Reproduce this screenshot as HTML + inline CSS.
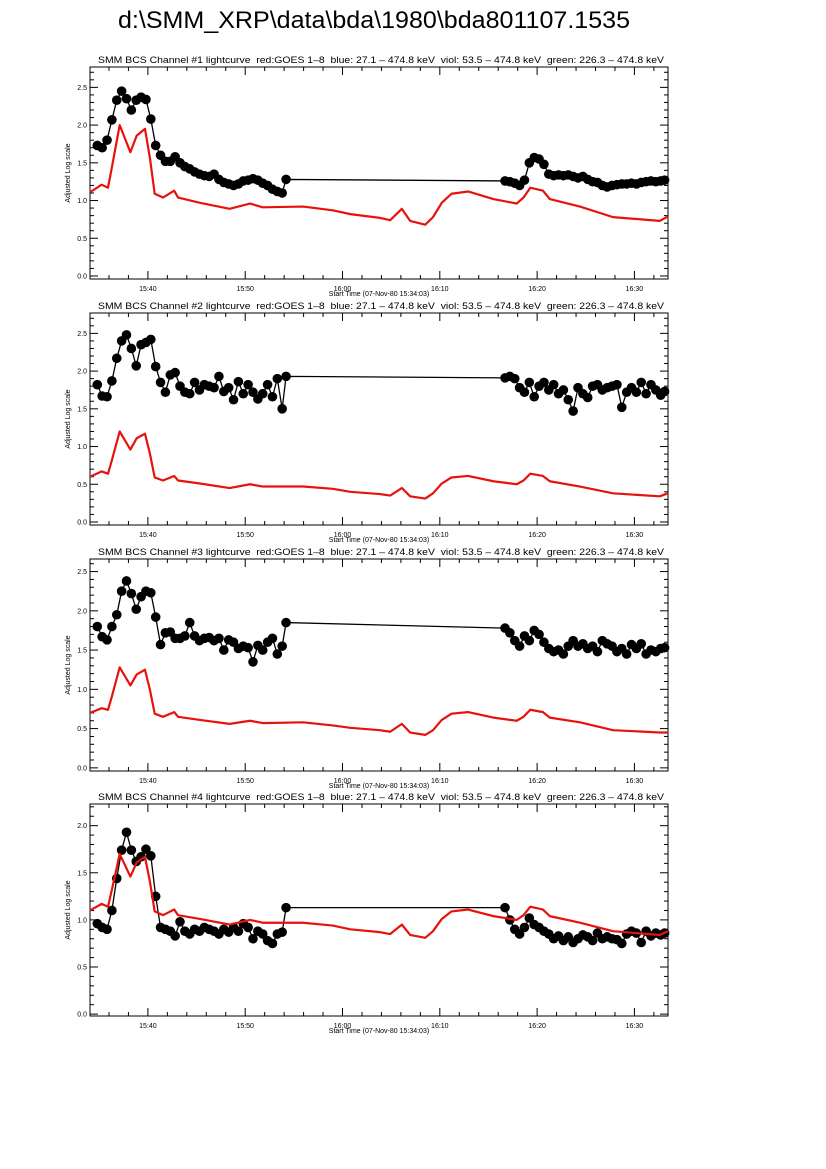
<!DOCTYPE html>
<html><head><meta charset="utf-8"><style>
html,body{margin:0;padding:0;background:#fff;}
svg{display:block;font-family:"Liberation Sans",sans-serif;}
</style></head><body>
<svg id="chart" width="826" height="1169" viewBox="0 0 826 1169">
<text x="118" y="28" font-size="24" fill="#000" textLength="512" lengthAdjust="spacingAndGlyphs">d:\SMM_XRP\data\bda\1980\bda801107.1535</text>
</svg>
<script>
const seg1Times=[34.8,35.3,35.8,36.3,36.8,37.3,37.8,38.3,38.8,39.3,39.8,40.3,40.8,41.3,41.8,42.3,42.8,43.3,43.8,44.3,44.8,45.3,45.8,46.3,46.8,47.3,47.8,48.3,48.8,49.3,49.8,50.3,50.8,51.3,51.8,52.3,52.8,53.3,53.8,54.2];
const seg2Times=[76.7,77.2,77.7,78.2,78.7,79.2,79.7,80.2,80.7,81.2,81.7,82.2,82.7,83.2,83.7,84.2,84.7,85.2,85.7,86.2,86.7,87.2,87.7,88.2,88.7,89.2,89.7,90.2,90.7,91.2,91.7,92.2,92.7,93.1];
const goesTimes=[34.05,35.25,35.9,36.3,37.1,38.2,38.85,39.7,40.2,40.7,41.55,42.7,43.1,45.35,48.4,50.5,51.8,55.95,59,60.8,63.85,64.9,66.1,66.95,68.5,69.3,70.2,71.2,72.9,75.5,77.9,78.6,79.3,80.6,81.3,84.4,87.8,92.6,93.45];
const goes1=[1.11,1.21,1.17,1.44,2.0,1.64,1.86,1.95,1.57,1.09,1.04,1.13,1.04,0.97,0.89,0.96,0.91,0.92,0.87,0.82,0.77,0.74,0.89,0.73,0.68,0.78,0.97,1.09,1.12,1.02,0.96,1.04,1.17,1.13,1.02,0.92,0.78,0.73,0.79];
const goes2=[0.60,0.67,0.64,0.82,1.20,0.96,1.11,1.17,0.91,0.59,0.55,0.61,0.55,0.51,0.45,0.50,0.47,0.47,0.44,0.40,0.37,0.35,0.45,0.34,0.31,0.38,0.51,0.59,0.61,0.54,0.50,0.55,0.64,0.61,0.54,0.47,0.38,0.34,0.38];
const goes3=[0.70,0.76,0.74,0.91,1.28,1.05,1.19,1.25,1.00,0.69,0.65,0.71,0.65,0.61,0.56,0.60,0.57,0.58,0.54,0.51,0.48,0.46,0.56,0.45,0.42,0.48,0.61,0.69,0.71,0.64,0.60,0.65,0.74,0.71,0.64,0.58,0.48,0.45,0.45];
const goes4=[1.10,1.17,1.14,1.32,1.70,1.46,1.61,1.67,1.41,1.09,1.05,1.11,1.05,1.01,0.95,1.00,0.97,0.97,0.94,0.90,0.87,0.85,0.95,0.84,0.81,0.88,1.01,1.09,1.11,1.04,1.00,1.05,1.14,1.11,1.04,0.97,0.88,0.84,0.88];
const bcs1a=[1.73,1.70,1.80,2.07,2.33,2.45,2.35,2.20,2.33,2.37,2.34,2.08,1.73,1.60,1.52,1.52,1.58,1.50,1.45,1.42,1.38,1.35,1.33,1.32,1.35,1.28,1.24,1.22,1.20,1.22,1.26,1.27,1.29,1.27,1.23,1.20,1.15,1.12,1.10,1.28];
const bcs1b=[1.26,1.25,1.23,1.20,1.27,1.50,1.57,1.55,1.48,1.35,1.33,1.34,1.33,1.34,1.32,1.30,1.32,1.28,1.25,1.24,1.20,1.18,1.20,1.21,1.22,1.22,1.23,1.22,1.24,1.25,1.26,1.25,1.26,1.27];
const bcs2a=[1.82,1.67,1.66,1.87,2.17,2.40,2.48,2.30,2.07,2.35,2.38,2.42,2.06,1.85,1.72,1.95,1.98,1.80,1.72,1.70,1.85,1.75,1.82,1.80,1.78,1.93,1.73,1.78,1.62,1.86,1.70,1.82,1.72,1.63,1.70,1.82,1.66,1.90,1.50,1.93];
const bcs2b=[1.91,1.93,1.90,1.78,1.72,1.85,1.66,1.80,1.85,1.75,1.82,1.70,1.75,1.62,1.47,1.78,1.70,1.65,1.80,1.82,1.75,1.78,1.80,1.82,1.52,1.72,1.78,1.72,1.85,1.70,1.82,1.75,1.68,1.73];
const bcs3a=[1.80,1.67,1.63,1.80,1.95,2.25,2.38,2.22,2.02,2.18,2.25,2.23,1.92,1.57,1.72,1.73,1.65,1.65,1.68,1.85,1.68,1.62,1.65,1.66,1.62,1.65,1.50,1.63,1.60,1.52,1.55,1.53,1.35,1.56,1.50,1.60,1.65,1.45,1.55,1.85];
const bcs3b=[1.78,1.72,1.62,1.55,1.68,1.62,1.75,1.70,1.60,1.52,1.48,1.50,1.45,1.55,1.62,1.55,1.58,1.52,1.55,1.48,1.62,1.58,1.55,1.48,1.52,1.45,1.57,1.52,1.58,1.45,1.50,1.48,1.52,1.53];
const bcs4a=[0.96,0.92,0.90,1.10,1.44,1.74,1.93,1.74,1.62,1.67,1.75,1.68,1.25,0.92,0.90,0.88,0.83,0.98,0.88,0.85,0.90,0.88,0.92,0.90,0.88,0.85,0.90,0.87,0.92,0.88,0.96,0.92,0.80,0.88,0.85,0.78,0.75,0.85,0.87,1.13];
const bcs4b=[1.13,1.00,0.90,0.85,0.92,1.02,0.95,0.92,0.88,0.85,0.80,0.83,0.78,0.82,0.76,0.80,0.84,0.82,0.78,0.86,0.80,0.82,0.80,0.79,0.75,0.85,0.88,0.86,0.76,0.88,0.83,0.86,0.84,0.86];
const xTickLabels=["15:40","15:50","16:00","16:10","16:20","16:30"];
const xTickValues=[40,50,60,70,80,90];
const yTicks13=["0.0","0.5","1.0","1.5","2.0","2.5"];
const yTicks4=["0.0","0.5","1.0","1.5","2.0"];

const panels=[
 {n:1,top:67,ymin:-0.04,ymax:2.77,goes:goes1,a:bcs1a,b:bcs1b,ticks:yTicks13},
 {n:2,top:313,ymin:-0.04,ymax:2.77,goes:goes2,a:bcs2a,b:bcs2b,ticks:yTicks13},
 {n:3,top:559,ymin:-0.04,ymax:2.66,goes:goes3,a:bcs3a,b:bcs3b,ticks:yTicks13},
 {n:4,top:804,ymin:-0.02,ymax:2.23,goes:goes4,a:bcs4a,b:bcs4b,ticks:yTicks4}
];
const L=90,R=668,H=212,T0=34.05,T1=93.45;
const svg=document.getElementById('chart');
const NS='http://www.w3.org/2000/svg';
function mk(tag,attrs,parent){const e=document.createElementNS(NS,tag);for(const k in attrs)e.setAttribute(k,attrs[k]);(parent||svg).appendChild(e);return e;}
function xs(t){return L+(t-T0)/(T1-T0)*(R-L);}
panels.forEach(p=>{
 const g=mk('g',{});
 
 
 const B=p.top+H;
 const ys=v=>B-(v-p.ymin)/(p.ymax-p.ymin)*H;
 const tt=mk('text',{x:98,y:p.top-4,'font-size':9,textLength:566,lengthAdjust:'spacingAndGlyphs',style:'white-space:pre'},g);
 tt.textContent='SMM BCS Channel #'+p.n+' lightcurve  red:GOES 1\u20138  blue: 27.1 \u2013 474.8 keV  viol: 53.5 \u2013 474.8 keV  green: 226.3 \u2013 474.8 keV';
 
 
 const box=mk('rect',{x:L,y:p.top,width:R-L,height:H,fill:'none',stroke:'#000','stroke-width':1},g);
 
 
 for(let m=36;m<=92;m+=2){
   const x=xs(m), major=(m%10===0), len=major?8:4;
   mk('line',{x1:x,y1:B,x2:x,y2:B-len,stroke:'#000','stroke-width':1},g);
   mk('line',{x1:x,y1:p.top,x2:x,y2:p.top+len,stroke:'#000','stroke-width':1},g);
 }
 xTickValues.forEach((v,i)=>{
   const t=mk('text',{x:xs(v),y:B+12,'font-size':7,'text-anchor':'middle'},g);
   t.textContent=xTickLabels[i];
   
   
 });
 const xt=mk('text',{x:379,y:B+17,'font-size':7,'text-anchor':'middle'},g);
 xt.textContent='Start Time (07-Nov-80 15:34:03)';
 
 
 for(let v=0;v<=p.ymax+1e-6;v+=0.1){
   const vv=Math.round(v*10)/10,y=ys(vv),major=Math.abs(vv*2-Math.round(vv*2))<1e-6,len=major?8:4;
   mk('line',{x1:L,y1:y,x2:L+len,y2:y,stroke:'#000','stroke-width':1},g);
   mk('line',{x1:R,y1:y,x2:R-len,y2:y,stroke:'#000','stroke-width':1},g);
 }
 p.ticks.forEach(lb=>{
   const t=mk('text',{x:L-3,y:ys(parseFloat(lb))+2.5,'font-size':7,'text-anchor':'end'},g);
   t.textContent=lb;
   
   
 });
 const yt=mk('text',{x:0,y:0,'font-size':7,'text-anchor':'middle',transform:'translate(70,'+(p.top+H/2)+') rotate(-90)'},g);
 yt.textContent='Adjusted Log scale';
 
 
 const times=seg1Times.concat(seg2Times), vals=p.a.concat(p.b);
 const bl=mk('polyline',{points:times.map((t,i)=>xs(t)+','+ys(vals[i])).join(' '),fill:'none',stroke:'#000','stroke-width':1.3},g);
 
 
 times.forEach((t,i)=>{
   const c=mk('circle',{cx:xs(t),cy:ys(vals[i]),r:4.8,fill:'#000'},g);
   
   
 });
 const rl=mk('polyline',{points:goesTimes.map((t,i)=>xs(t)+','+ys(p.goes[i])).join(' '),fill:'none',stroke:'#e8120c','stroke-width':2.2,'stroke-linejoin':'round'},g);
 
 
});
</script>
</body></html>
